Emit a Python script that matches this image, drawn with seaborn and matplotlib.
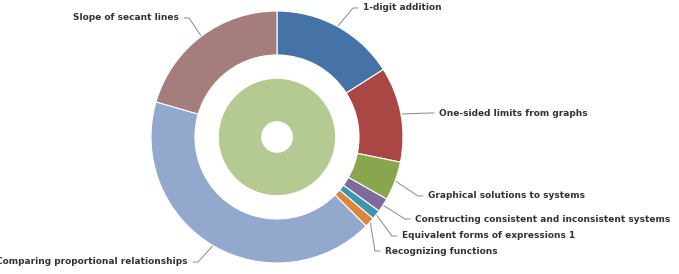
import numpy as np
import seaborn as sns
import matplotlib.pyplot as plt

# outer ring: skills, clockwise from 12 o'clock (share of total, %)
skills = [
    '1-digit addition',
    'One-sided limits from graphs',
    'Graphical solutions to systems',
    'Constructing consistent and inconsistent systems',
    'Equivalent forms of expressions 1',
    'Recognizing functions',
    'Comparing proportional relationships',
    'Slope of secant lines',
]
shares = [16.0, 12.2, 5.0, 1.8, 1.2, 1.3, 42.0, 20.5]
colors = ['#4572A7', '#AA4643', '#89A54E', '#80699B', '#3D96AE', '#DB843D', '#92A8CD', '#A47D7C']

# inner disc: one category
inner_values = [100.0]
inner_colors = ['#B5CA92']

# label anchor positions in pixels from top-left (layout only)
label_pos = [
    (363, 8, 'left'),
    (439, 113, 'left'),
    (428, 196, 'left'),
    (415, 219, 'left'),
    (402, 236, 'left'),
    (385, 251, 'left'),
    (188, 262, 'right'),
    (179, 18, 'right'),
]

W, H = 679, 274
cx, cy = 277, H - 137
r_out, ring_w = 126, 44
r_in, hole = 59, 15

sns.set_theme(style='white')
plt.rcParams['font.family'] = ['DejaVu Sans']

fig = plt.figure(figsize=(6.79, 2.74), dpi=100)
ax = fig.add_axes([0, 0, 1, 1])
ax.axis('off')

wedges, _ = ax.pie(shares, colors=sns.color_palette(colors), radius=r_out, center=(cx, cy),
                   startangle=90, counterclock=False,
                   wedgeprops=dict(width=ring_w, edgecolor='white', linewidth=0.8))
ax.pie(inner_values, colors=sns.color_palette(inner_colors), radius=r_in, center=(cx, cy),
       startangle=90, counterclock=False,
       wedgeprops=dict(width=r_in - hole, edgecolor='white', linewidth=1.2))
ax.set_xlim(0, W)
ax.set_ylim(0, H)
ax.set_aspect('equal')

for w, name, (lx, ly, ha) in zip(wedges, skills, label_pos):
    mid = np.deg2rad((w.theta1 + w.theta2) / 2)
    px, py = cx + (r_out + 1) * np.cos(mid), cy + (r_out + 1) * np.sin(mid)
    ty = H - ly
    gap = 5 if ha == 'left' else -5
    ax.plot([px, lx - gap * 2, lx - gap], [py, ty, ty], color='#888888', lw=0.7)
    ax.text(lx, ty, name, ha=ha, va='center', fontsize=6.5, fontweight='bold', color='#333333')

fig.savefig('out.png', dpi=100)
